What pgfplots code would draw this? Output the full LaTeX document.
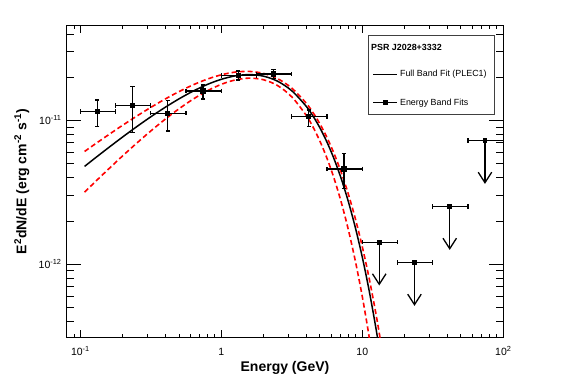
\documentclass[border=0pt]{standalone}
\usepackage{fontspec}
\setmainfont{Liberation Sans}
\usepackage{pgfplots}
\pgfplotsset{compat=1.18}
\usetikzlibrary{arrows.meta}
\pgfplotsset{
  mylinelegend/.style={legend image code/.code={\draw[##1] (0pt,0pt) -- (23.7pt,0pt);}},
  mymarklegend/.style={legend image code/.code={\draw[##1] (0pt,0pt) -- (23.7pt,0pt); \draw[##1] plot coordinates {(11.85pt,0pt)};}},
}
\begin{document}
\begin{tikzpicture}
\path[use as bounding box] (-66.7pt,-46.7pt) rectangle (500.3pt,337.3pt);
% axis 1: x ticks and x label
\begin{axis}[
  at={(0pt,0pt)}, anchor=south west,
  scale only axis, width=436.6pt, height=311.6pt,
  xmode=log, ymode=log,
  xmin=0.08, xmax=100, ymin=3.1e-13, ymax=4.56e-11,
  axis line style={line width=1.2pt},
  tick style={black, line width=0.8pt},
  major tick length=7pt, minor tick length=3.5pt,
  xtick={0.1,1,10,100},
  xticklabels={{10\textsuperscript{-1}},1,10,{10\textsuperscript{2}}},
  minor xtick={0.08,0.09,0.2,0.3,0.4,0.5,0.6,0.7,0.8,0.9,2,3,4,5,6,7,8,9,20,30,40,50,60,70,80,90},
  ytick=\empty,
  xticklabel style={font=\fontsize{10.5}{12}\selectfont, inner sep=0pt, text height=7.8pt, text depth=0pt, yshift=-10pt},
  xlabel={Energy (GeV)},
  xlabel style={font=\bfseries\fontsize{14}{16}\selectfont, at={(axis description cs:0.5,-0.097)}, anchor=center},
]
\end{axis}
% axis 2: y ticks, data, legend
\begin{axis}[
  at={(0pt,0pt)}, anchor=south west,
  scale only axis, width=436.6pt, height=311.6pt,
  xmode=log, ymode=log,
  xmin=0.08, xmax=100, ymin=3.1e-13, ymax=4.56e-11,
  axis line style={line width=1.2pt},
  tick style={black, line width=0.8pt},
  major tick length=14pt, minor tick length=7pt,
  xtick=\empty,
  ytick={1e-12,1e-11},
  yticklabels={{10\textsuperscript{-12}},{10\textsuperscript{-11}}},
  minor ytick={3e-13,4e-13,5e-13,6e-13,7e-13,8e-13,9e-13,2e-12,3e-12,4e-12,5e-12,6e-12,7e-12,8e-12,9e-12,2e-11,3e-11,4e-11},
  yticklabel style={font=\fontsize{10.5}{12}\selectfont, inner sep=0pt, xshift=-5pt},
  ylabel={E\textsuperscript{2}dN/dE (erg cm\textsuperscript{-2} s\textsuperscript{-1})},
  ylabel style={font=\bfseries\fontsize{14}{16}\selectfont, at={(axis description cs:-0.103,0.5)}, anchor=center},
  legend style={at={(axis description cs:0.7015,0.8585)}, anchor=north west, draw=none, fill=none,
    inner sep=0pt, outer sep=0pt, row sep=20.5pt, column sep=2.6pt,
    font=\fontsize{8.9}{10}\selectfont,
    nodes={inner sep=0pt, text height=6.5pt, text depth=1.8pt}},
  legend cell align=left,
]
% model curve (PLEC1)
\addplot[black, line width=1.5pt, smooth, forget plot] table {
x y
0.10715 4.790e-12
0.12589 5.430e-12
0.15849 6.468e-12
0.19953 7.675e-12
0.25119 9.055e-12
0.31623 1.0607e-11
0.39811 1.2313e-11
0.50119 1.4136e-11
0.63096 1.600e-11
0.79433 1.779e-11
1.0 1.934e-11
1.2589 2.043e-11
1.5849 2.084e-11
1.9953 2.032e-11
2.5119 1.873e-11
3.1623 1.608e-11
3.9811 1.262e-11
4.4668 1.074e-11
5.0119 8.856e-12
5.6234 7.047e-12
6.3096 5.391e-12
7.0795 3.944e-12
7.9433 2.746e-12
8.9125 1.806e-12
10.0 1.117e-12
11.220 6.435e-13
12.589 3.424e-13
14.125 1.668e-13
15.849 7.35e-14
};
% upper band
\addplot[red, line width=1.6pt, dash pattern=on 5pt off 3pt, smooth, forget plot] table {
x y
0.10715 6.085e-12
0.12589 6.804e-12
0.15849 7.953e-12
0.19953 9.260e-12
0.25119 1.072e-11
0.31623 1.233e-11
0.39811 1.407e-11
0.50119 1.588e-11
0.63096 1.769e-11
0.79433 1.938e-11
1.0 2.078e-11
1.2589 2.171e-11
1.5849 2.193e-11
1.9953 2.124e-11
2.5119 1.952e-11
3.1623 1.678e-11
3.9811 1.326e-11
4.4668 1.135e-11
5.0119 9.434e-12
5.6234 7.586e-12
6.3096 5.875e-12
7.0795 4.366e-12
7.9433 3.096e-12
8.9125 2.084e-12
10.0 1.321e-12
11.220 7.848e-13
12.589 4.327e-13
14.125 2.196e-13
15.849 1.014e-13
};
% lower band
\addplot[red, line width=1.6pt, dash pattern=on 5pt off 3pt, smooth, forget plot] table {
x y
0.10715 3.172e-12
0.12589 3.701e-12
0.15849 4.592e-12
0.19953 5.671e-12
0.25119 6.954e-12
0.31623 8.453e-12
0.39811 1.017e-11
0.50119 1.206e-11
0.63096 1.407e-11
0.79433 1.606e-11
1.0 1.784e-11
1.2589 1.915e-11
1.5849 1.970e-11
1.9953 1.919e-11
2.5119 1.747e-11
3.1623 1.458e-11
3.9811 1.093e-11
4.4668 9.013e-12
5.0119 7.151e-12
5.6234 5.439e-12
6.3096 3.944e-12
7.0795 2.710e-12
7.9433 1.752e-12
8.9125 1.059e-12
10.0 5.938e-13
11.220 3.057e-13
12.589 1.430e-13
};
% energy band points
\addplot[black, line width=1.3pt, only marks, mark=square*, mark size=2pt, forget plot,
  error bars/.cd, x dir=both, x explicit, y dir=both, y explicit,
  error bar style={line width=1.4pt},
  error mark options={rotate=90, mark size=2.2pt, line width=1.3pt}]
  table[x=x, y=y, x error minus=xm, x error plus=xp, y error minus=ym, y error plus=yp] {
x y xm xp ym yp
0.1318 1.151e-11 0.0318 0.04603 2.455e-12 2.38e-12
0.2344 1.268e-11 0.05657 0.08183 4.454e-12 4.50e-12
0.4169 1.122e-11 0.10067 0.14544 2.767e-12 2.51e-12
0.7413 1.604e-11 0.17896 0.2587 1.93e-12 1.62e-12
1.3183 2.049e-11 0.3183 0.46 1.37e-12 1.60e-12
2.3442 2.105e-11 0.5659 0.8181 1.40e-12 1.65e-12
4.1687 1.063e-11 1.0064 1.4547 1.575e-12 1.20e-12
7.4131 4.600e-12 1.7897 2.5869 1.223e-12 1.312e-12
};
% upper limits: horizontal bars
\addplot[black, line width=1.3pt, only marks, mark=square*, mark size=1.8pt, forget plot,
  error bars/.cd, x dir=both, x explicit,
  error bar style={line width=1.4pt},
  error mark options={rotate=90, mark size=2.2pt, line width=1.3pt}]
  table[x=x, y=y, x error minus=xm, x error plus=xp] {
x y xm xp
13.183 1.422e-12 3.183 4.6
23.442 1.026e-12 5.659 8.181
41.687 2.515e-12 10.064 14.547
74.131 7.238e-12 17.897 25.869
};
% upper limits: arrows
\addplot[black, only marks, mark=none, forget plot,
  error bars/.cd, y dir=minus, y explicit, error mark=none,
  error bar style={line width=1.3pt, -{Straight Barb[length=10.5pt, width=13.5pt, line width=1.3pt]}}]
  table[x=x, y=y, y error minus=ym] {
x y ym
13.183 1.422e-12 7.11e-13
23.442 1.026e-12 5.13e-13
41.687 2.515e-12 1.2575e-12
74.131 7.238e-12 3.619e-12
};
\addlegendimage{black, line width=0.8pt, mylinelegend}
\addlegendentry{Full Band Fit (PLEC1)}
\addlegendimage{black, line width=0.8pt, mark=square*, mark size=2pt, mymarklegend}
\addlegendentry{Energy Band Fits}
\end{axis}
\draw[line width=0.6pt, black!75] (301.6pt,223.3pt) rectangle (427.3pt,302.3pt);
\node[anchor=west, inner sep=0pt, font=\bfseries\fontsize{8.9}{10}\selectfont] at (304.3pt,290pt) {PSR J2028+3332};
\end{tikzpicture}
\end{document}
